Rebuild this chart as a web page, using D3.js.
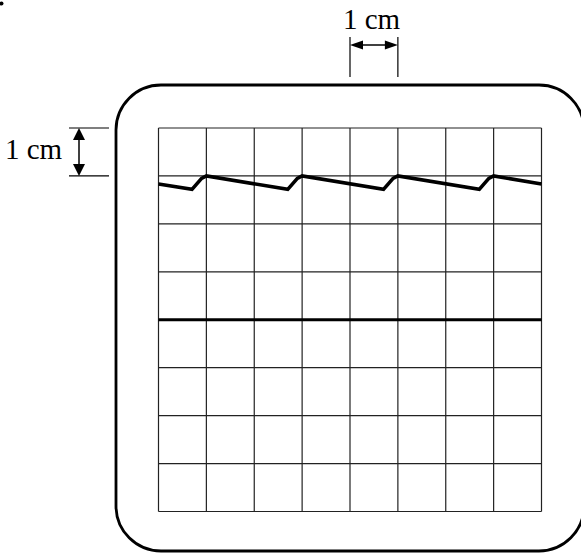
<!DOCTYPE html>
<html>
<head>
<meta charset="utf-8">
<script src="https://cdn.jsdelivr.net/npm/d3@7"></script>
<style>
  html, body { margin: 0; padding: 0; background: #fff; }
  svg { display: block; }
</style>
</head>
<body>
<svg id="chart" width="581" height="554"></svg>
<script>
// ---- data (screen divisions; 1 division = 1 cm) ----
const gridCols = d3.range(0, 9);          // vertical grid lines at 0..8 div
const gridRows = d3.range(0, 9);          // horizontal grid lines at 0..8 div
const traceX = [0, 0.70, 0.90, 1.0, 2.70, 2.90, 3.0, 4.70, 4.90, 5.0, 6.70, 6.90, 7.0, 8.0];
const traceY = [1.17, 1.28, 1.05, 1.0, 1.28, 1.05, 1.0, 1.28, 1.05, 1.0, 1.28, 1.05, 1.0, 1.17];
const baselineX = [0, 8];
const baselineY = [4, 4];
const scaleLabel = "1 cm";

const svg = d3.select("#chart");
const x = d3.scaleLinear().domain([0, 8]).range([158.5, 541.5]);
const y = d3.scaleLinear().domain([0, 8]).range([128, 511.5]);

// small leftover dot at top-left
svg.append("circle").attr("cx", 1.5).attr("cy", 3.5).attr("r", 2).attr("fill", "#000");

// rounded screen outline
svg.append("rect")
  .attr("x", 116).attr("y", 85).attr("width", 468).attr("height", 466)
  .attr("rx", 45).attr("ry", 45)
  .attr("fill", "none").attr("stroke", "#000").attr("stroke-width", 2.8);

// grid
const g = svg.append("g");
g.selectAll("line.v").data(gridCols).join("line").attr("class", "v")
  .attr("x1", d => x(d)).attr("x2", d => x(d))
  .attr("y1", y(0)).attr("y2", y(8))
  .attr("stroke", "#222").attr("stroke-width", 1.2);
g.selectAll("line.h").data(gridRows).join("line").attr("class", "h")
  .attr("x1", x(0)).attr("x2", x(8))
  .attr("y1", d => y(d)).attr("y2", d => y(d))
  .attr("stroke", "#222").attr("stroke-width", 1.2);

// traces
const line = d3.line().x(d => x(d[0])).y(d => y(d[1]));
svg.append("path")
  .attr("d", line(d3.zip(baselineX, baselineY)))
  .attr("fill", "none").attr("stroke", "#000").attr("stroke-width", 3);
svg.append("path")
  .attr("d", line(d3.zip(traceX, traceY)))
  .attr("fill", "none").attr("stroke", "#000").attr("stroke-width", 3.6)
  .attr("stroke-linejoin", "miter");

const font = "Liberation Serif, Times New Roman, serif";

// vertical dimension (left)
const vx = 79;
svg.append("line").attr("x1", 69).attr("x2", 109).attr("y1", y(0)).attr("y2", y(0))
  .attr("stroke", "#000").attr("stroke-width", 1.2);
svg.append("line").attr("x1", 69).attr("x2", 109).attr("y1", y(1)).attr("y2", y(1))
  .attr("stroke", "#000").attr("stroke-width", 1.2);
svg.append("line").attr("x1", vx).attr("x2", vx).attr("y1", y(0) + 6).attr("y2", y(1) - 6)
  .attr("stroke", "#000").attr("stroke-width", 1.5);
svg.append("path").attr("d", `M${vx},${y(0)} L${vx - 6},${y(0) + 12} L${vx + 6},${y(0) + 12} Z`).attr("fill", "#000");
svg.append("path").attr("d", `M${vx},${y(1)} L${vx - 6},${y(1) - 12} L${vx + 6},${y(1) - 12} Z`).attr("fill", "#000");
svg.append("text").attr("x", 5).attr("y", 159)
  .attr("font-family", font).attr("font-size", 29).attr("fill", "#000").text(scaleLabel);

// horizontal dimension (top)
const hy = 45;
const hx0 = x(4), hx1 = x(5);
svg.append("line").attr("x1", hx0).attr("x2", hx0).attr("y1", 37).attr("y2", 77)
  .attr("stroke", "#000").attr("stroke-width", 1.2);
svg.append("line").attr("x1", hx1).attr("x2", hx1).attr("y1", 37).attr("y2", 77)
  .attr("stroke", "#000").attr("stroke-width", 1.2);
svg.append("line").attr("x1", hx0 + 6).attr("x2", hx1 - 6).attr("y1", hy).attr("y2", hy)
  .attr("stroke", "#000").attr("stroke-width", 1.5);
svg.append("path").attr("d", `M${hx0},${hy} L${hx0 + 13},${hy - 4.5} L${hx0 + 13},${hy + 4.5} Z`).attr("fill", "#000");
svg.append("path").attr("d", `M${hx1},${hy} L${hx1 - 13},${hy - 4.5} L${hx1 - 13},${hy + 4.5} Z`).attr("fill", "#000");
svg.append("text").attr("x", 343).attr("y", 29)
  .attr("font-family", font).attr("font-size", 29).attr("fill", "#000").text(scaleLabel);
</script>
</body>
</html>
